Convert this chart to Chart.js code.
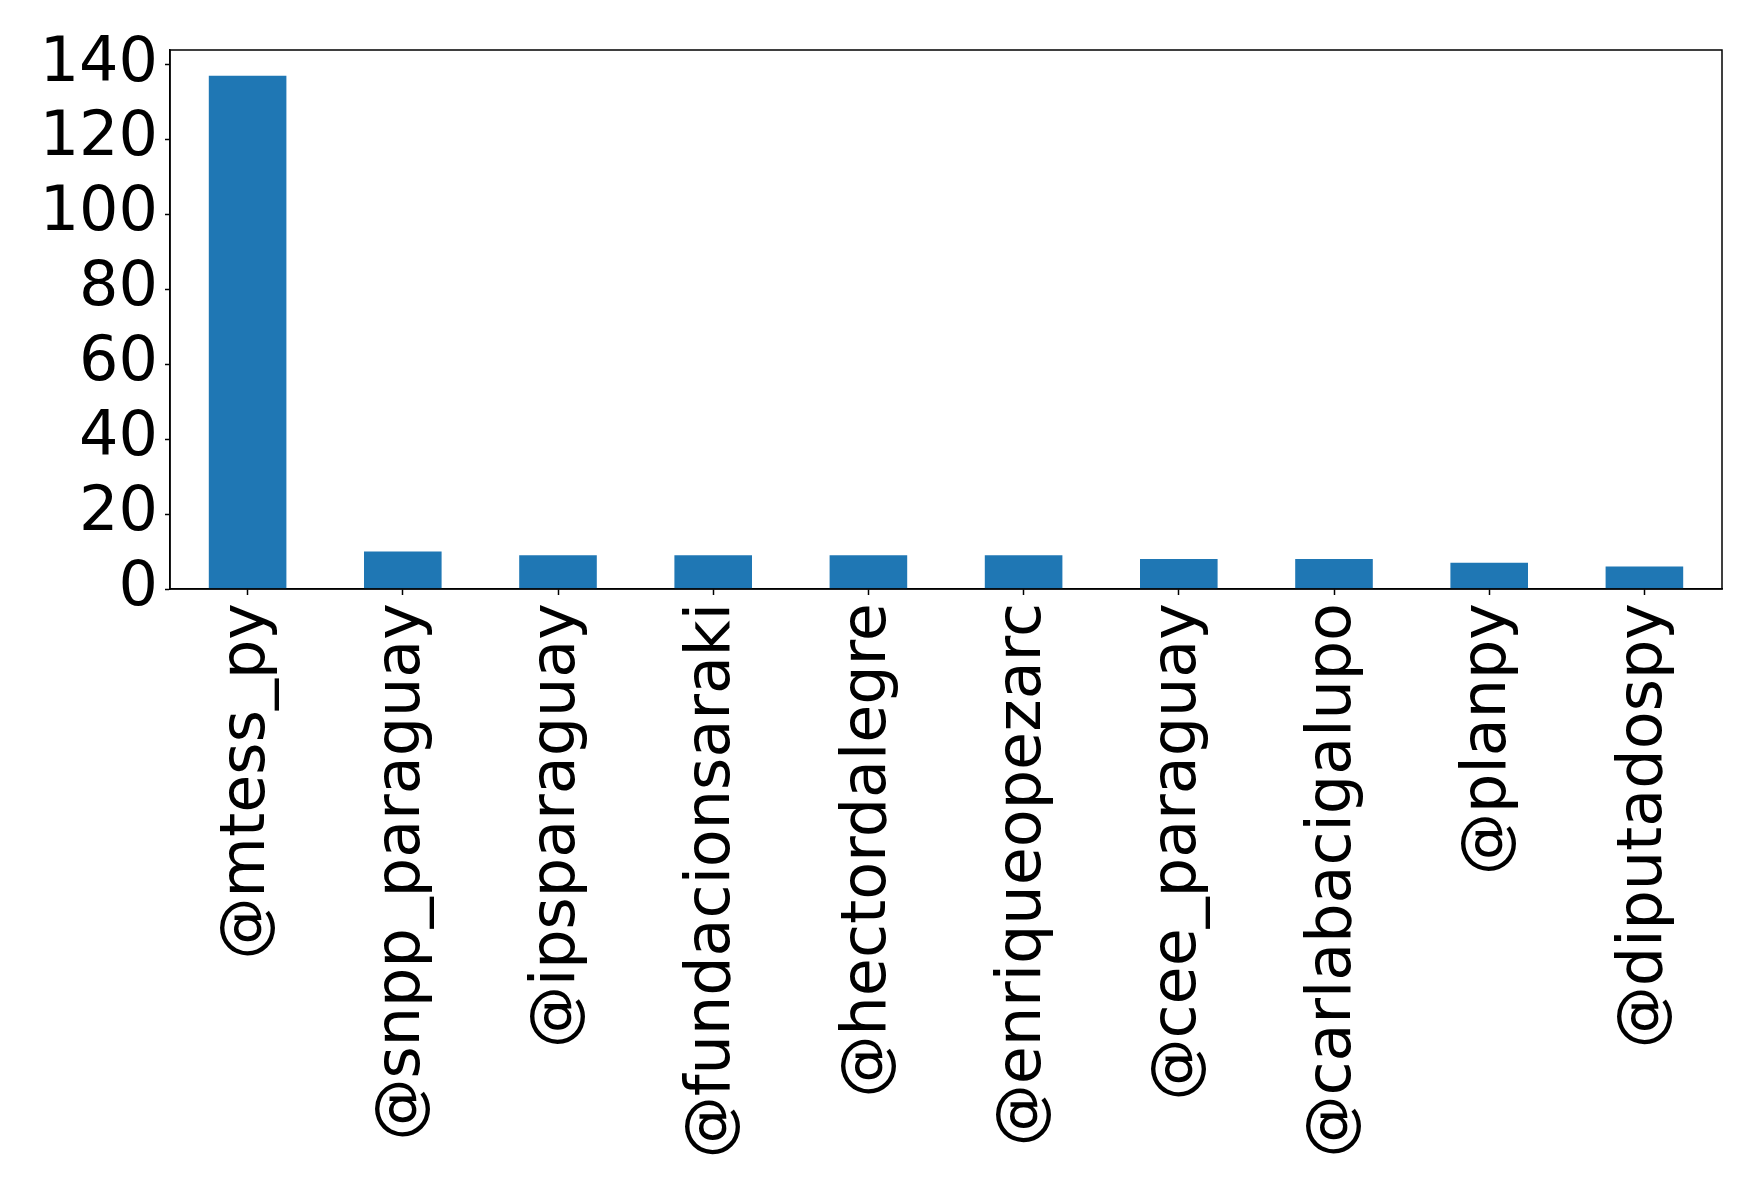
<!DOCTYPE html>
<html>
<head>
<meta charset="utf-8">
<script src="https://cdn.jsdelivr.net/npm/chart.js@4"></script>
<style>
  html, body { margin: 0; padding: 0; background: #fff; }
  #c { display: block; }
</style>
</head>
<body>
<canvas id="c" width="1758" height="1197"></canvas>
<script>
const categories = ["@mtess_py", "@snpp_paraguay", "@ipsparaguay", "@fundacionsaraki", "@hectordalegre", "@enriqueopezarc", "@cee_paraguay", "@carlabacigalupo", "@planpy", "@diputadospy"];
const counts = [137, 10, 9, 9, 9, 9, 8, 8, 7, 6];
const yTicks = [0, 20, 40, 60, 80, 100, 120, 140];

const FONT = "'DejaVu Sans', sans-serif";

const frame = {
  id: 'frame',
  afterDatasetsDraw(chart) {
    const a = chart.chartArea, ctx = chart.ctx;
    ctx.save();
    ctx.strokeStyle = '#000';
    ctx.lineWidth = 1.5;
    ctx.strokeRect(a.left, a.top, a.right - a.left, a.bottom - a.top);
    ctx.restore();
  }
};

new Chart(document.getElementById('c'), {
  type: 'bar',
  data: {
    labels: categories,
    datasets: [{
      data: counts,
      backgroundColor: '#1f77b4',
      borderWidth: 0,
      barPercentage: 0.5,
      categoryPercentage: 1.0
    }]
  },
  options: {
    responsive: false,
    devicePixelRatio: 1,
    animation: false,
    layout: { padding: { left: 0, right: 36, top: 50, bottom: 0 } },
    plugins: { legend: { display: false }, tooltip: { enabled: false } },
    scales: {
      x: {
        offset: true,
        grid: { display: true, drawOnChartArea: false, drawTicks: true, tickLength: 6, tickColor: '#000', tickWidth: 1.5, offset: false },
        border: { display: true, color: '#000', width: 1.5 },
        ticks: {
          color: '#000',
          font: { family: FONT, size: 62 },
          maxRotation: 90, minRotation: 90,
          padding: 8,
          autoSkip: false
        },
        afterFit(scale) { scale.height = 1197 - 589; }
      },
      y: {
        min: 0,
        max: 143.85,
        grid: { display: true, drawOnChartArea: false, drawTicks: true, tickLength: 5, tickColor: '#000', tickWidth: 1.5 },
        border: { display: true, color: '#000', width: 1.5 },
        afterBuildTicks(scale) { scale.ticks = yTicks.map(v => ({ value: v })); },
        ticks: {
          color: '#000',
          font: { family: FONT, size: 62, lineHeight: 1.0 },
          padding: 7,
          autoSkip: false
        },
        afterFit(scale) { scale.width = 170; }
      }
    }
  },
  plugins: [frame]
});
</script>
</body>
</html>
